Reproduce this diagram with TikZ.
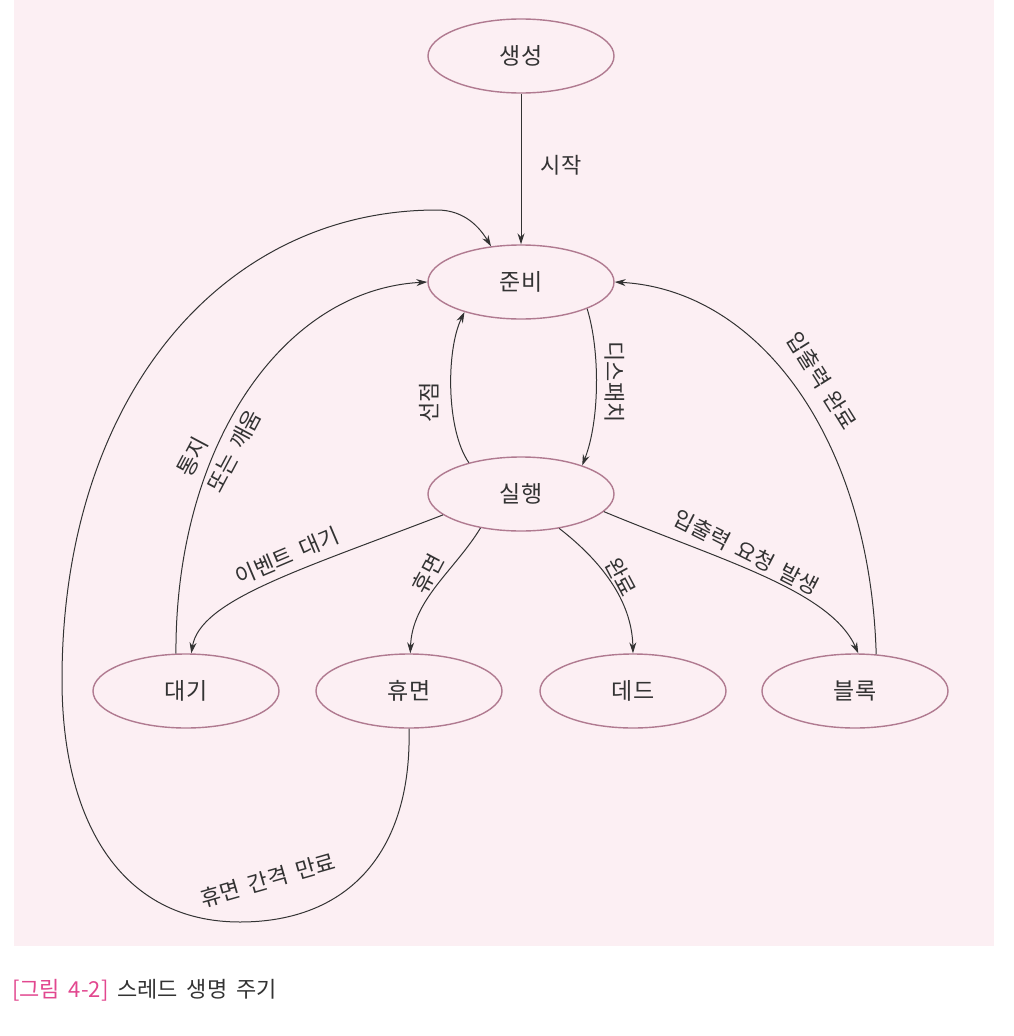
\documentclass[tikz,border=0pt]{standalone}
\usepackage{fontspec}
\setmainfont{Noto Sans CJK KR}[WordSpace=1.8]
\usetikzlibrary{shapes.geometric,arrows.meta}
\definecolor{bg}{HTML}{FCEFF3}
\definecolor{ebord}{HTML}{B07A90}
\definecolor{ink}{HTML}{333333}
\definecolor{capred}{HTML}{E2478F}
\begin{document}
\begin{tikzpicture}[x=1pt,y=-1pt,
  state/.style={ellipse,draw=ebord,line width=1.4pt,fill=bg,minimum width=186pt,minimum height=74pt,inner sep=0pt,font=\fontsize{23}{26}\selectfont,text=ink},
  arr/.style={draw=ink,line width=1pt,-{Stealth[length=11pt,width=7pt]}},
  lab/.style={font=\fontsize{22}{26}\selectfont,text=ink,inner sep=1pt}]
\useasboundingbox (0,0) rectangle (1013,1036);
\fill[white] (0,0) rectangle (1013,1036);
\fill[bg] (14,0) rectangle (994,946);

% states
\node[state] (gen)   at (521,56)  {생성};
\node[state] (ready) at (521,282) {준비};
\node[state] (run)   at (521,494) {실행};
\node[state] (wait)  at (186,691) {대기};
\node[state] (sleep) at (409,691) {휴면};
\node[state] (dead)  at (633,691) {데드};
\node[state] (block) at (855,691) {블록};

% connectors
\draw[arr] (gen) -- (ready);
\draw[arr] (ready.-22) .. controls (600,350) and (600,420) .. (run.25);
\draw[arr] (run.149) .. controls (446,430) and (446,350) .. (ready.208);
\draw[arr] (wait.105) .. controls (175,450) and (280,290) .. (ready.west);
\draw[arr] (sleep.south) .. controls (412,850) and (350,922) .. (240,922)
  .. controls (120,922) and (62,820) .. (62,680)
  .. controls (62,400) and (220,210) .. (437,210)
  .. controls (465,210) and (480,228) .. (ready.130);
\draw[arr] (block.60) .. controls (870,440) and (760,290) .. (ready.east);
\draw[arr] (run.195) .. controls (300,570) and (200,600) .. (wait.82);
\draw[arr] (run.220) .. controls (455,570) and (412,600) .. (sleep.88);
\draw[arr] (run.318) .. controls (600,560) and (632,600) .. (dead.90);
\draw[arr] (run.348) .. controls (720,560) and (830,590) .. (block.85);

% labels
\node[lab] (lstart) at (561,165) {시작};
\node[lab,rotate=-90] (ldisp) at (615,382) {디스패치};
\node[lab,rotate=90] (lpre) at (429,402) {선점};
\node[lab,rotate=62,align=left,font=\fontsize{22}{34}\selectfont] (lnotify) at (219,443) {통지\\또는 깨움};
\node[lab,rotate=16] (ltime) at (268,880) {휴면 간격 만료};
\node[lab,rotate=-58] (liodone) at (822,381) {입출력 완료};
\node[lab,rotate=23] (levent) at (287,556) {이벤트 대기};
\node[lab,rotate=62] (lsleep) at (428,574) {휴면};
\node[lab,rotate=-62] (ldone) at (621,577) {완료};
\node[lab,rotate=-27] (lioreq) at (746,552) {입출력 요청 발생};

% caption
\node[anchor=west,inner sep=0pt,font=\fontsize{22}{26}\selectfont] (cap) at (12,990)
  {\textcolor{capred}{[그림 4-2]} \textcolor{ink}{스레드 생명 주기}};
\end{tikzpicture}
\end{document}
